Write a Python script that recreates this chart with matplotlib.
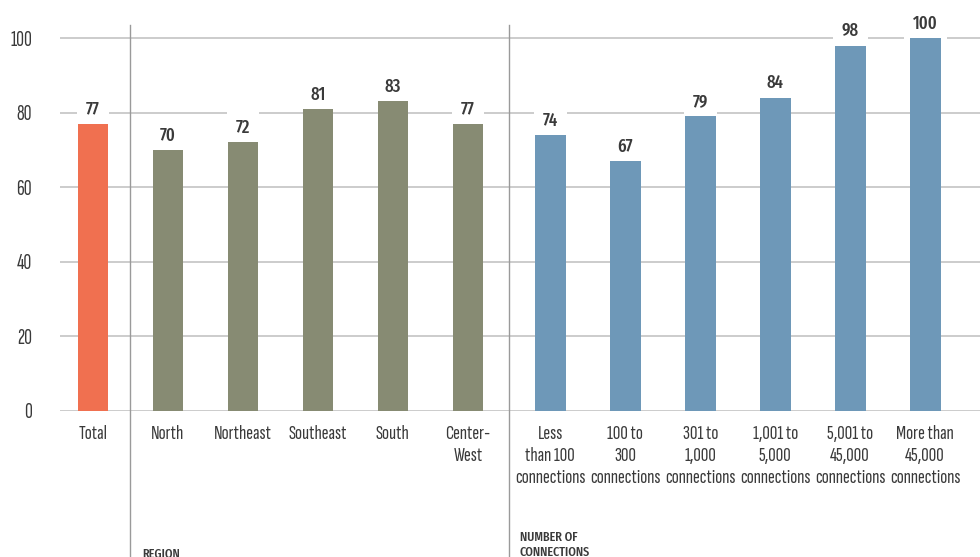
import numpy as np
import matplotlib.pyplot as plt

# --- Datos ---
total_label = ["Total"]
total_value = [77]

region_labels = ["North", "Northeast", "Southeast", "South", "Center-\nWest"]
region_values = [70, 72, 81, 83, 77]

conn_labels = ["Less\nthan 100\nconnections", "100 to\n300\nconnections",
               "301 to\n1,000\nconnections", "1,001 to\n5,000\nconnections",
               "5,001 to\n45,000\nconnections", "More than\n45,000\nconnections"]
conn_values = [74, 67, 79, 84, 98, 100]

y_ticks = [0, 20, 40, 60, 80, 100]

# --- Estilo ---
FONT = ["Sofia Sans Extra Condensed", "Fira Sans Extra Condensed", "Roboto Condensed", "DejaVu Sans"]
FONT_BOLD = ["Fira Sans Extra Condensed", "Roboto Condensed", "DejaVu Sans"]
plt.rcParams['font.family'] = FONT
COL_TOTAL = "#F07050"
COL_REGION = "#878B73"
COL_CONN = "#6E98B8"
GRID = "#c4c4c4"
TXT = "#3a3a3a"

fig = plt.figure(figsize=(9.8, 5.57), dpi=100)
ax = fig.add_axes([60 / 980, 146 / 557, 920 / 980, 386 / 557])

x_total = np.array([0.0])
x_region = np.arange(1, 1 + len(region_values), dtype=float)
x_conn = np.arange(len(conn_values), dtype=float) + len(region_values) + 1.1

width = 0.41
groups = [(x_total, total_value, COL_TOTAL),
          (x_region, region_values, COL_REGION),
          (x_conn, conn_values, COL_CONN)]

for xs, vals, col in groups:
    bars = ax.bar(xs, vals, width=width, color=col, zorder=3)
    for b, v in zip(bars, vals):
        ax.annotate(f"{v}", (b.get_x() + b.get_width() / 2, v),
                    xytext=(0, 4), textcoords="offset points",
                    ha="center", va="bottom", fontsize=13, fontweight="medium",
                    family=FONT_BOLD, color=TXT, zorder=2.5,
                    bbox=dict(boxstyle="square,pad=0.5", fc="white", ec="none"))

ax.set_xlim(-0.44, 11.83)
ax.set_ylim(0, 103.5)
ax.set_yticks(y_ticks)
for y in y_ticks:
    ax.axhline(y, color=GRID, lw=1.2, zorder=1)

all_x = np.concatenate([x_total, x_region, x_conn])
ax.set_xticks(all_x)
ax.set_xticklabels(total_label + region_labels + conn_labels, linespacing=1.3)
ax.tick_params(axis="x", length=0, pad=10, labelsize=15, labelcolor=TXT)
ax.tick_params(axis="y", length=0, pad=20, labelsize=15.5, labelcolor=TXT)

for s in ax.spines.values():
    s.set_visible(False)

# separadores de grupo
sep1 = (x_total[0] + x_region[0]) / 2
sep2 = (x_region[-1] + x_conn[0]) / 2
for sx in (sep1, sep2):
    ax.axvline(sx, ymin=-0.4, ymax=1.0, color="#9a9a9a", lw=1.0, clip_on=False, zorder=2)

ax.text(sep1 + 0.16, -0.355, "REGION", transform=ax.get_xaxis_transform(),
        fontsize=9.5, fontweight="medium", family=FONT_BOLD, color=TXT, va="top", ha="left")
ax.text(sep2 + 0.14, -0.31, "NUMBER OF\nCONNECTIONS", transform=ax.get_xaxis_transform(),
        fontsize=9.5, fontweight="medium", family=FONT_BOLD, color=TXT, va="top", ha="left",
        linespacing=1.3)

fig.savefig("out.png", dpi=100)
